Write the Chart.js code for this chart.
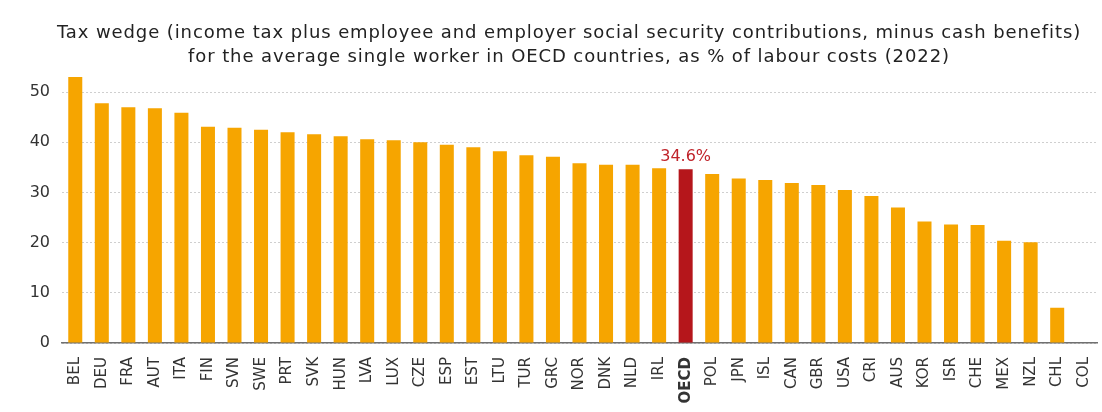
<!DOCTYPE html>
<html>
<head>
<meta charset="utf-8">
<script src="https://cdn.jsdelivr.net/npm/chart.js@4.4.1/dist/chart.umd.min.js"></script>
<style>
  html, body { margin:0; padding:0; background:#fff; }
  #wrap { width:1102px; height:412px; }
</style>
</head>
<body>
<div id="wrap"><canvas id="taxChart" width="1102" height="412"></canvas></div>
<script>
const countries = ['BEL','DEU','FRA','AUT','ITA','FIN','SVN','SWE','PRT','SVK','HUN','LVA','LUX','CZE','ESP','EST','LTU','TUR','GRC','NOR','DNK','NLD','IRL','OECD','POL','JPN','ISL','CAN','GBR','USA','CRI','AUS','KOR','ISR','CHE','MEX','NZL','CHL','COL'];
const taxWedge = [53.0,47.8,47.0,46.8,45.9,43.1,42.9,42.5,42.0,41.6,41.2,40.6,40.4,40.0,39.5,39.0,38.2,37.4,37.1,35.8,35.5,35.5,34.8,34.6,33.7,32.8,32.5,31.9,31.5,30.5,29.3,27.0,24.2,23.6,23.5,20.4,20.1,7.0,0];
const yTicks = [0,10,20,30,40,50];
const highlight = 'OECD';
const titleLines = [
  'Tax wedge (income tax plus employee and employer social security contributions, minus cash benefits)',
  'for the average single worker in OECD countries, as % of labour costs (2022)'
];

const ORANGE = '#f6a500';
const RED = '#b5161b';
const FONT = '"DejaVu Sans", "Noto Sans", sans-serif';

// two-line heading, slightly tracked out
const heading = {
  id: 'heading',
  afterDraw(chart) {
    const { ctx } = chart;
    ctx.save();
    ctx.fillStyle = '#222';
    ctx.font = '18px ' + FONT;
    ctx.letterSpacing = '0.9px';
    ctx.textAlign = 'center';
    ctx.textBaseline = 'alphabetic';
    const cx = chart.width / 2 + 18;
    titleLines.forEach((t, k) => ctx.fillText(t, cx, 38 + k * 24));
    ctx.restore();
  }
};

// value label above the highlighted bar
const avgLabel = {
  id: 'avgLabel',
  afterDatasetsDraw(chart) {
    const i = countries.indexOf(highlight);
    const bar = chart.getDatasetMeta(0).data[i];
    const { ctx } = chart;
    ctx.save();
    ctx.fillStyle = '#c0232a';
    ctx.font = '16px ' + FONT;
    ctx.textAlign = 'center';
    ctx.textBaseline = 'alphabetic';
    ctx.fillText(taxWedge[i] + '%', bar.x, bar.y - 8);
    ctx.restore();
  }
};

new Chart(document.getElementById('taxChart'), {
  type: 'bar',
  data: {
    labels: countries,
    datasets: [{
      data: taxWedge,
      backgroundColor: countries.map(c => c === highlight ? RED : ORANGE),
      barPercentage: 0.8,
      categoryPercentage: 0.66
    }]
  },
  options: {
    responsive: false,
    animation: false,
    layout: { padding: { left: 0, right: 5, top: 67.5, bottom: 0 } },
    plugins: {
      legend: { display: false },
      tooltip: { enabled: false },
      title: { display: false }
    },
    scales: {
      x: {
        grid: { display: false, drawTicks: false },
        border: { display: true, color: '#707070', width: 1.5 },
        ticks: {
          minRotation: 90, maxRotation: 90, autoSkip: false, padding: 14,
          color: '#333',
          font: ctx => ({ family: FONT, size: 15, weight: countries[ctx.index] === highlight ? 'bold' : 'normal' })
        },
        afterFit: s => { s.height = 69; s.paddingLeft = 0; s.paddingRight = 0; }
      },
      y: {
        min: 0, max: 54.9,
        grid: { color: '#cfcfcf', lineWidth: 1, drawTicks: false },
        border: { display: false, dash: [2, 2] },
        ticks: { stepSize: 10, padding: 12, color: '#333', font: { family: FONT, size: 16 } },
        afterBuildTicks: s => { s.ticks = yTicks.map(v => ({ value: v })); },
        afterFit: s => { s.width = 62; s.paddingTop = 0; s.paddingBottom = 0; }
      }
    }
  },
  plugins: [avgLabel, heading]
});
</script>
</body>
</html>
